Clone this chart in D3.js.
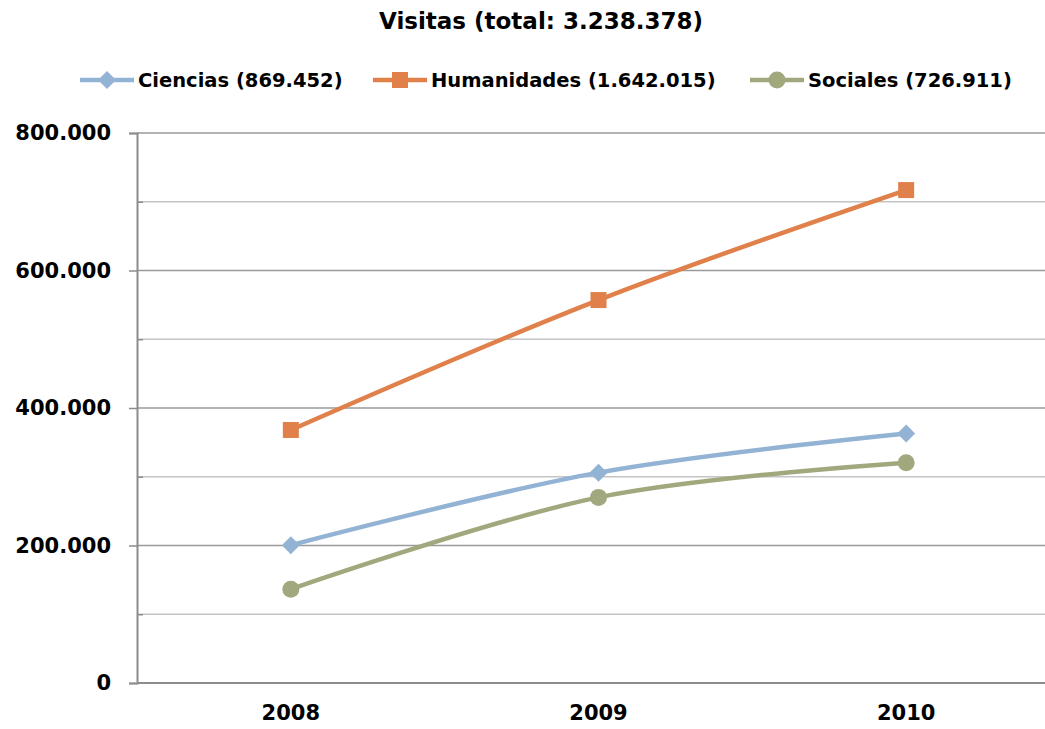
<!DOCTYPE html>
<html><head><meta charset="utf-8">
<script src="https://cdn.jsdelivr.net/npm/d3@7"></script>
<style>
html,body{margin:0;padding:0;background:#fff;}
svg text{font-family:"DejaVu Sans",sans-serif;font-weight:bold;fill:#000;}
</style></head>
<body><svg id="c" width="1045" height="729"></svg>
<script>
const title = "Visitas (total: 3.238.378)";
const years = ["2008","2009","2010"];
const seriesNames = ["Ciencias (869.452)","Humanidades (1.642.015)","Sociales (726.911)"];
const ciencias = [200500, 306000, 363000];
const humanidades = [368000, 557000, 717000];
const sociales = [136500, 270000, 320500];
const yTicks = [0, 200000, 400000, 600000, 800000];
const yMinorTicks = [100000, 300000, 500000, 700000];
const colors = ["#93B3D5","#E0804A","#A2A87D"];
const markers = ["diamond","square","circle"];

const data = [ciencias, humanidades, sociales];
const svg = d3.select("#c");
const x = d3.scaleBand().domain(years).range([137, 1060]);
const y = d3.scaleLinear().domain([0, 800000]).range([683, 133]);
const fmt = v => d3.format(",")(v).replace(/,/g, ".");

// gridlines
svg.append("g").selectAll("line").data(yMinorTicks).join("line")
  .attr("x1", 137).attr("x2", 1045).attr("y1", d => y(d)).attr("y2", d => y(d))
  .attr("stroke", "#c4c4c4").attr("stroke-width", 1.5);
svg.append("g").selectAll("line").data(yTicks.filter(d => d > 0)).join("line")
  .attr("x1", 137).attr("x2", 1045).attr("y1", d => y(d)).attr("y2", d => y(d))
  .attr("stroke", "#9a9a9a").attr("stroke-width", 1.5);

// y axis
const yAxis = d3.axisLeft(y).tickValues(yTicks).tickFormat(fmt).tickSize(8).tickPadding(18);
const ga = svg.append("g").attr("transform", "translate(137,0)").call(yAxis);
ga.select(".domain").attr("stroke", "#8c8c8c").attr("stroke-width", 2);
ga.selectAll(".tick line").attr("stroke", "#8c8c8c").attr("stroke-width", 1.5);
ga.selectAll(".tick text").style("font-size", "21px").attr("fill", "#000");
const gm = svg.append("g").attr("transform", "translate(137,0)")
  .call(d3.axisRight(y).tickValues(yMinorTicks).tickSize(6).tickFormat(""));
gm.select(".domain").remove();
gm.selectAll(".tick line").attr("stroke", "#8c8c8c").attr("stroke-width", 1.5);

// x axis
const gx = svg.append("g").attr("transform", "translate(0,683)")
  .call(d3.axisBottom(x).tickSize(0).tickPadding(22));
gx.select(".domain").attr("stroke", "#8c8c8c").attr("stroke-width", 2).attr("d", "M137,0H1045");
gx.selectAll(".tick text").style("font-size", "21px");

// lines
const cx = d => x(d) + x.bandwidth() / 2;
const line = d3.line().x((d, i) => cx(years[i])).y(d => y(d)).curve(d3.curveCatmullRom.alpha(0.5));
function drawMarker(g, kind, color, px, py) {
  if (kind === "diamond") {
    g.append("path").attr("d", `M${px},${py-9}L${px+9},${py}L${px},${py+9}L${px-9},${py}Z`).attr("fill", color);
  } else if (kind === "square") {
    g.append("rect").attr("x", px-8).attr("y", py-8).attr("width", 16).attr("height", 16).attr("fill", color);
  } else {
    g.append("circle").attr("cx", px).attr("cy", py).attr("r", 8.5).attr("fill", color);
  }
}
data.forEach((vals, k) => {
  const g = svg.append("g");
  g.append("path").attr("d", line(vals)).attr("fill", "none").attr("stroke", colors[k])
    .attr("stroke-width", 4.5).attr("stroke-linejoin", "round");
  vals.forEach((v, i) => drawMarker(g, markers[k], colors[k], cx(years[i]), y(v)));
});

// title
svg.append("text").attr("x", 541).attr("y", 29).attr("text-anchor", "middle")
  .style("font-size", "23px").text(title);

// legend
const legX = [80, 373, 750];
seriesNames.forEach((n, k) => {
  const g = svg.append("g");
  g.append("line").attr("x1", legX[k]).attr("x2", legX[k] + 54).attr("y1", 80).attr("y2", 80)
    .attr("stroke", colors[k]).attr("stroke-width", 4.5);
  drawMarker(g, markers[k], colors[k], legX[k] + 27, 80);
  g.append("text").attr("x", legX[k] + 58).attr("y", 87).style("font-size", "19.5px").text(n);
});
</script></body></html>
